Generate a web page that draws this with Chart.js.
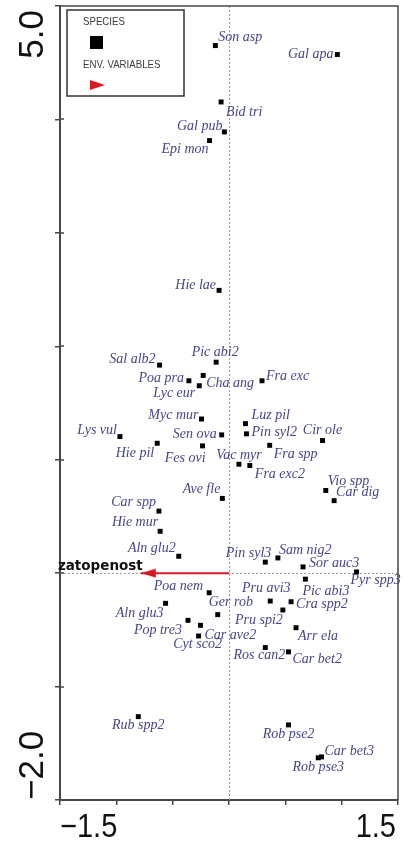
<!DOCTYPE html>
<html>
<head>
<meta charset="utf-8">
<script src="https://cdn.jsdelivr.net/npm/chart.js@4.4.0/dist/chart.umd.min.js"></script>
<style>
	html, body { margin: 0; padding: 0; background: #fff; }
	#wrap { width: 404px; height: 845px; }
</style>
</head>
<body>
<div id="wrap"><canvas id="ordination" width="404" height="845"></canvas></div>
<script>
'use strict';

// species scores (axis 1, axis 2)
var speciesNames = [
	'Son asp', 'Gal apa', 'Bid tri', 'Gal pub', 'Epi mon', 'Hie lae', 'Sal alb2', 'Pic abi2',
	'Poa pra', 'Cha ang', 'Lyc eur', 'Fra exc', 'Myc mur', 'Luz pil', 'Lys vul', 'Sen ova',
	'Pin syl2', 'Cir ole', 'Hie pil', 'Fes ovi', 'Fra spp', 'Vac myr', 'Fra exc2', 'Vio spp',
	'Car dig', 'Ave fle', 'Car spp', 'Hie mur', 'Aln glu2', 'Pin syl3', 'Sam nig2', 'Sor auc3',
	'Pyr spp3', 'Pic abi3', 'Poa nem', 'Pru avi3', 'Cra spp2', 'Aln glu3', 'Ger rob', 'Pop tre3',
	'Car ave2', 'Cyt sco2', 'Pru spi2', 'Arr ela', 'Ros can2', 'Car bet2', 'Rub spp2', 'Rob pse2',
	'Car bet3', 'Rob pse3'
];
var speciesX = [
	-0.121, 0.962, -0.070, -0.041, -0.173, -0.088, -0.616, -0.114,
	-0.356, -0.229, -0.264, 0.293, -0.244, 0.146, -0.968, -0.065,
	0.155, 0.830, -0.637, -0.235, 0.361, 0.088, 0.185, 0.859,
	0.933, -0.059, -0.622, -0.611, -0.446, 0.322, 0.434, 0.657,
	1.132, 0.678, -0.176, 0.366, 0.551, -0.563, -0.100, -0.364,
	-0.253, -0.270, 0.478, 0.595, 0.322, 0.528, -0.805, 0.528,
	0.821, 0.792
];
var speciesY = [
	4.651, 4.572, 4.154, 3.890, 3.814, 2.493, 1.834, 1.860,
	1.696, 1.743, 1.652, 1.696, 1.359, 1.318, 1.204, 1.219,
	1.228, 1.169, 1.145, 1.122, 1.127, 0.960, 0.949, 0.729,
	0.639, 0.659, 0.547, 0.369, 0.149, 0.097, 0.134, 0.055,
	0.011, -0.053, -0.173, -0.246, -0.252, -0.266, -0.366, -0.416,
	-0.460, -0.554, -0.325, -0.481, -0.656, -0.694, -1.265, -1.338,
	-1.620, -1.628
];

// environmental variable arrow
var envNames = ['zatopenost'];
var envX = [-0.783];
var envY = [0];

// axis ranges and the end tick labels
var xRange = [-1.5, 1.5];
var yRange = [-2.0, 5.0];
var xTickLabels = ['\u22121.5', '1.5'];
var yTickLabels = ['\u22122.0', '5.0'];

// where each species label sits next to its square: [align, dx, dy]
var labelPlace = [
	['left', 3, -8], ['right', -4, 0], ['left', 5, 10], ['right', -2, -6], ['right', -1, 9],
	['right', -3, -5], ['right', -4, -6], ['center', -1, -10], ['right', -5, -2], ['left', 3, 8],
	['right', -4, 8], ['left', 4, -4], ['right', -3, -4], ['left', 6, -8], ['right', -3, -6],
	['right', -5, -1], ['left', 5, -2], ['center', 0, -10], ['right', -3, 10], ['right', 3, 12],
	['left', 4, 9], ['center', 0, -9], ['left', 5, 9], ['left', 2, -9], ['left', 2, -8],
	['right', -2, -9], ['right', -3, -9], ['right', -2, -9], ['right', -3, -8], ['right', 6, -9],
	['left', 1, -8], ['left', 6, -4], ['left', -6, 8], ['left', -3, 12], ['right', -6, -6],
	['center', -4, -13], ['left', 5, 3], ['right', -2, 10], ['left', -9, -12], ['right', -6, 10],
	['left', 4, 10], ['center', -1, 8], ['right', 0, 10], ['left', 2, 9], ['center', -6, 8],
	['left', 4, 7], ['center', 0, 9], ['center', 0, 9], ['left', 3, -6], ['center', 0, 10]
];

var RED = '#d61a24';
var LABEL_BLUE = '#45458c';
var FRAME = '#474747';

// small canvas used as point style: tip of the arrow sits on the centre
function makeArrowHead(){
	var c = document.createElement('canvas'), g;
	c.width = 32;
	c.height = 10;
	g = c.getContext('2d');
	g.fillStyle = RED;
	g.beginPath();
	g.moveTo(16, 5);
	g.lineTo(31, 0.5);
	g.lineTo(31, 9.5);
	g.closePath();
	g.fill();
	return c;
}

var speciesPoints = speciesX.map(function(x, i){
	return { x : x, y : speciesY[i] };
});

var arrowPoints = [{ x : 0, y : 0 }, { x : envX[0], y : envY[0] }];

// dotted zero lines, under the marks
var zeroLines = {
	id : 'zeroLines',
	beforeDatasetsDraw : function(chart){
		var ctx = chart.ctx, a = chart.chartArea,
			x0 = chart.scales.x.getPixelForValue(0),
			y0 = chart.scales.y.getPixelForValue(0);
		ctx.save();
		ctx.strokeStyle = '#9a9a9a';
		ctx.lineWidth = 1;
		ctx.setLineDash([2, 2]);
		ctx.beginPath();
		ctx.moveTo(Math.round(x0) + 0.5, a.top);
		ctx.lineTo(Math.round(x0) + 0.5, a.bottom);
		ctx.moveTo(a.left, Math.round(y0) + 0.5);
		ctx.lineTo(a.right, Math.round(y0) + 0.5);
		ctx.stroke();
		ctx.restore();
	}
};

// labels, frame, legend box and end tick labels
var decorations = {
	id : 'decorations',
	afterDraw : function(chart){
		var ctx = chart.ctx, a = chart.chartArea,
			xs = chart.scales.x, ys = chart.scales.y,
			pts = chart.getDatasetMeta(0).data,
			env = chart.getDatasetMeta(1).data,
			i, p, v;

		ctx.save();

		// species names
		ctx.font = 'italic 14px "Liberation Serif", "Times New Roman", serif';
		ctx.fillStyle = LABEL_BLUE;
		ctx.textBaseline = 'middle';
		for(i = 0; i < pts.length; i++){
			p = labelPlace[i];
			ctx.textAlign = p[0];
			ctx.fillText(speciesNames[i], pts[i].x + p[1], pts[i].y + p[2]);
		}

		// env variable name
		ctx.font = 'bold 13.5px "DejaVu Sans", sans-serif';
		ctx.fillStyle = '#111';
		ctx.textAlign = 'right';
		ctx.textBaseline = 'alphabetic';
		ctx.fillText(envNames[0], env[1].x + 2, env[1].y - 3);

		// top and right side of the frame
		ctx.strokeStyle = FRAME;
		ctx.lineWidth = 1.5;
		ctx.beginPath();
		ctx.moveTo(a.left, a.top);
		ctx.lineTo(a.right, a.top);
		ctx.lineTo(a.right, a.bottom);
		ctx.stroke();

		// inner half of the y tick marks
		ctx.lineWidth = 1.5;
		ctx.beginPath();
		for(v = yRange[0] + 1; v < yRange[1]; v++){
			p = Math.round(ys.getPixelForValue(v));
			ctx.moveTo(a.left, p);
			ctx.lineTo(a.left + 4, p);
		}
		ctx.stroke();

		// legend box
		ctx.strokeStyle = '#333';
		ctx.lineWidth = 1.5;
		ctx.strokeRect(67, 10, 117, 86);
		ctx.fillStyle = '#3a3a3a';
		ctx.textAlign = 'left';
		ctx.font = '11px "Liberation Sans", Arial, sans-serif';
		ctx.save();
		ctx.translate(83, 25);
		ctx.scale(0.88, 1);
		ctx.fillText('SPECIES', 0, 0);
		ctx.restore();
		ctx.save();
		ctx.translate(83, 68);
		ctx.scale(0.88, 1);
		ctx.fillText('ENV. VARIABLES', 0, 0);
		ctx.restore();
		ctx.fillStyle = '#000';
		ctx.fillRect(90, 36, 13, 13);
		ctx.fillStyle = RED;
		ctx.beginPath();
		ctx.moveTo(105, 85);
		ctx.lineTo(90, 80);
		ctx.lineTo(90, 90);
		ctx.closePath();
		ctx.fill();

		// x end labels, slightly narrow like the original
		ctx.fillStyle = '#111';
		ctx.font = '33px "Liberation Sans", Arial, sans-serif';
		ctx.save();
		ctx.translate(xs.getPixelForValue(xRange[0]), 837);
		ctx.scale(0.88, 1);
		ctx.textAlign = 'left';
		ctx.fillText(xTickLabels[0], 0, 0);
		ctx.restore();
		ctx.save();
		ctx.translate(xs.getPixelForValue(xRange[1]) - 2, 837);
		ctx.scale(0.88, 1);
		ctx.textAlign = 'right';
		ctx.fillText(xTickLabels[1], 0, 0);
		ctx.restore();

		// y end labels, rotated
		ctx.font = '35px "Liberation Sans", Arial, sans-serif';
		ctx.save();
		ctx.translate(43, ys.getPixelForValue(yRange[0]));
		ctx.rotate(-Math.PI / 2);
		ctx.textAlign = 'left';
		ctx.fillText(yTickLabels[0], 0, 0);
		ctx.restore();
		ctx.save();
		ctx.translate(43, ys.getPixelForValue(yRange[1]) + 4);
		ctx.rotate(-Math.PI / 2);
		ctx.textAlign = 'right';
		ctx.fillText(yTickLabels[1], 0, 0);
		ctx.restore();

		ctx.restore();
	}
};

var axisGrid = {
	display : true,
	drawOnChartArea : false,
	drawTicks : true,
	tickLength : 5,
	color : FRAME,
	lineWidth : 1.5
};

new Chart(document.getElementById('ordination').getContext('2d'), {
	type : 'scatter',
	data : {
		datasets : [{
			data : speciesPoints,
			pointStyle : 'rect',
			pointRadius : 3.5,
			backgroundColor : '#000',
			borderWidth : 0
		}, {
			data : arrowPoints,
			showLine : true,
			borderColor : RED,
			borderWidth : 2,
			pointStyle : makeArrowHead(),
			pointRadius : [0, 3],
			backgroundColor : RED
		}]
	},
	options : {
		responsive : false,
		animation : false,
		devicePixelRatio : 1,
		layout : { padding : { top : 4, right : 3, left : 0, bottom : 0 } },
		plugins : {
			legend : { display : false },
			tooltip : { enabled : false }
		},
		scales : {
			x : {
				type : 'linear',
				min : xRange[0],
				max : xRange[1],
				ticks : { stepSize : 0.5, display : false },
				grid : axisGrid,
				border : { display : true, color : FRAME, width : 2 },
				afterFit : function(scale){ scale.height = 45; }
			},
			y : {
				type : 'linear',
				min : yRange[0],
				max : yRange[1],
				ticks : { stepSize : 1, display : false },
				grid : axisGrid,
				border : { display : true, color : FRAME, width : 2 },
				afterFit : function(scale){ scale.width = 60; }
			}
		}
	},
	plugins : [zeroLines, decorations]
});
</script>
</body>
</html>
